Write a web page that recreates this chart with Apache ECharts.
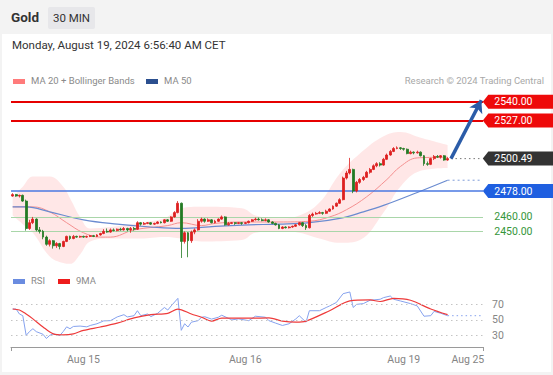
<!DOCTYPE html>
<html><head><meta charset="utf-8">
<script src="https://cdn.jsdelivr.net/npm/echarts/dist/echarts.min.js"></script>
<style>
html,body{margin:0;padding:0;}
body{width:553px;height:375px;overflow:hidden;background:#f3f3f3;font-family:Roboto,"Liberation Sans",Arial,sans-serif;}
#panel{position:absolute;left:2px;top:34px;width:549px;height:338px;background:#fff;}
#chart{position:absolute;left:0;top:0;width:553px;height:375px;}
.t{position:absolute;white-space:nowrap;}
.sw{position:absolute;width:12px;height:5px;}
</style>
</head><body>
<div id="panel"></div>
<div class="t" style="left:11px;top:9px;line-height:17px;font-size:13.5px;font-weight:bold;color:#333;">Gold</div>
<div class="t" style="left:48px;top:7px;width:47px;height:22px;line-height:22px;text-align:center;background:#e7e7ea;border-radius:2px;font-size:11.5px;color:#333;">30 MIN</div>
<div class="t" style="left:12px;top:38px;line-height:14px;font-size:11.5px;color:#333;">Monday, August 19, 2024 6:56:40 AM CET</div>
<div class="sw" style="left:13px;top:79px;background:#ff7b7b;"></div>
<div class="t" style="left:31px;top:74px;line-height:14px;font-size:9.5px;color:#8a8a8a;">MA 20 + Bollinger Bands</div>
<div class="sw" style="left:146px;top:79px;background:#2b4f8f;"></div>
<div class="t" style="left:164px;top:74px;line-height:14px;font-size:9.5px;color:#8a8a8a;">MA 50</div>
<div class="t" style="right:9px;top:74px;line-height:14px;font-size:9.5px;color:#a8a8a8;">Research © 2024 Trading Central</div>
<div class="sw" style="left:13px;top:279px;background:#6a8ce0;"></div>
<div class="t" style="left:31px;top:274px;line-height:14px;font-size:9.5px;color:#8a8a8a;">RSI</div>
<div class="sw" style="left:58px;top:279px;background:#ee1c1c;"></div>
<div class="t" style="left:76px;top:274px;line-height:14px;font-size:9.5px;color:#8a8a8a;">9MA</div>
<div id="chart"></div>
<script>
// ---- data ----
const slotCount = 140;               // 130 half-hour candles + projection space
const tickIndex  = [21, 69, 116, 135];
const tickLabels = ['Aug 15', 'Aug 16', 'Aug 19', 'Aug 25'];

const opens = [2474.5,2475.5,2474.5,2475,2471,2452,2456,2458.5,2451,2450,
2446,2441,2443.5,2440,2441.5,2439.5,2443,2446.5,2445,2446.5,
2446,2446.5,2446,2446.5,2447,2446.5,2447.5,2448.5,2450,2449.5,
2451,2450.5,2451.5,2451,2452,2451,2452,2451.5,2456,2455,
2455.5,2456,2455,2455.5,2456.5,2456,2458,2457,2460,2463,
2469.5,2443,2449,2443.5,2449.5,2451,2457,2458.5,2457,2458,
2456,2457,2458.5,2460,2454.5,2455.5,2456,2455.5,2456,2455.5,
2456,2457,2458,2458.5,2458,2457.5,2458,2456.5,2455.5,2454.5,
2452,2453,2452.5,2453,2453.5,2454.5,2456,2454,2452.5,2461,
2462,2462.5,2463,2462.5,2464,2465.5,2467.5,2469.5,2472,2487,
2490.5,2493,2478,2484,2486,2487.5,2491,2493,2495.5,2497,
2496,2500,2503,2505.5,2507.5,2508,2507.5,2507,2504,2505,
2504.5,2505,2502.5,2497,2496.5,2500.5,2502,2501.5,2502.5,2499.5];
const closes = [2475.5,2474.5,2475,2471,2452,2456,2458.5,2451,2450,2446,
2441,2443.5,2440,2441.5,2439.5,2443,2446.5,2445,2446.5,2446,
2446.5,2446,2446.5,2447,2446.5,2447.5,2448.5,2450,2449.5,2451,
2450.5,2451.5,2451,2452,2451,2452,2451.5,2456,2455,2455.5,
2456,2455,2455.5,2456.5,2456,2458,2457,2460,2463,2469.5,
2443,2449,2443.5,2449.5,2451,2457,2458.5,2457,2458,2456,
2457,2458.5,2460,2454.5,2455.5,2456,2455.5,2456,2455.5,2456,
2457,2458,2458.5,2458,2457.5,2458,2456.5,2455.5,2454.5,2452,
2453,2452.5,2453,2453.5,2454.5,2456,2454,2452.5,2461,2462,
2462.5,2463,2462.5,2464,2465.5,2467.5,2469.5,2472,2487,2490.5,
2493,2478,2484,2486,2487.5,2491,2493,2495.5,2497,2496,
2500,2503,2505.5,2507.5,2508,2507.5,2507,2504,2505,2504.5,
2505,2502.5,2497,2496.5,2500.5,2502,2501.5,2502.5,2499.5,2500.49];
const highs = [2476.5,2476,2475.5,2475.5,2472,2458,2460,2459,2453,2451,
2447,2444.5,2444,2442.5,2442,2443.5,2447,2447,2447.5,2447,
2447,2447,2447,2447.5,2447.5,2448,2449,2451.5,2452,2452,
2452,2452,2452.5,2453,2452.5,2453,2453,2457,2456.5,2456.5,
2456.5,2456.5,2456,2457,2457,2458.5,2458.5,2460.5,2464,2471,
2470,2450,2449.5,2450.5,2452,2458.5,2459.5,2459,2459,2458.5,
2458,2459,2461,2460.5,2456.5,2456.5,2456.5,2456.5,2456.5,2456.5,
2457.5,2458.5,2459.5,2459.5,2459,2459,2458.5,2457,2456,2455,
2453.5,2453.5,2453.5,2454,2455,2456.5,2456.5,2455,2462,2463,
2463.5,2464,2463.5,2465,2466,2468,2470,2473,2488,2492,
2501,2493.5,2485,2487,2488.5,2492,2494,2496.5,2498,2498,
2501,2504,2506.5,2508.5,2509,2508.5,2508,2507.5,2506,2505.5,
2506,2505.5,2503,2498.5,2501,2503,2503,2503,2503,2501.5];
const lows = [2474,2474,2473.5,2470.5,2450.5,2451,2455,2450,2448.5,2444.5,
2440,2439.5,2438,2438.5,2437.5,2439,2442.5,2444,2444.5,2445.5,
2445.5,2445.5,2445.5,2446,2446,2446,2447,2448,2449,2449,
2450,2450,2450.5,2450.5,2450,2449,2450.5,2451,2454,2454.5,
2455,2454.5,2454.5,2455,2455.5,2455.5,2456.5,2456.5,2459.5,2462.5,
2431.5,2441.5,2432,2442,2448,2450.5,2456,2456,2456.5,2455.5,
2455.5,2456.5,2458,2454,2454,2455,2454.5,2455,2454.5,2455,
2455.5,2456.5,2457.5,2457.5,2457,2457,2456,2455,2454,2451.5,
2451.5,2452,2452,2452.5,2453,2454,2453,2451,2452,2460,
2461.5,2462,2461.5,2462,2463.5,2465,2467,2469,2471.5,2486,
2489.5,2476.5,2477,2483,2485,2487,2490,2492.5,2494.5,2495,
2495.5,2499.5,2502.5,2505,2507,2506.5,2506,2503.5,2503.5,2503.5,
2504,2502,2495.5,2495.5,2496,2499.5,2501,2500.5,2499,2499];

// Bollinger band (read at these candle indexes)
const bandIdx   = [0,3,6,11,15,17,20,23,29,38,45,50,56,68,72,79,85,91,97,103,110,115,121,129];
const bandUpper = [2474,2481,2488,2488,2481,2473,2460,2452,2453,2456,2459,2466,2467,2466,2461,2459,2461,2470,2490,2504,2516,2519,2515,2510];
const bandLower = [2461,2455,2449,2432.5,2428,2427.5,2434,2443,2445,2445,2446,2445,2443,2444,2449,2450,2449,2445,2442,2444,2463,2481,2492,2494];
// MA 20
const ma20Idx = [0,6,11,16,21,26,29,36,46,50,56,60,68,79,88,94,99,105,111,115,120,129];
const ma20Val = [2467,2467,2463.5,2456,2449,2446,2446,2451,2454,2456,2454,2455.5,2456.5,2456.5,2457,2460,2465,2474,2486,2495,2501,2501.5];
// MA 50
const ma50Idx = [0,4,11,21,31,41,50,60,70,79,88,97,104,110,120,129];
const ma50Val = [2467,2467,2463.5,2458,2455,2453,2452,2453.5,2454.5,2455,2456,2459,2463.5,2468,2477,2485.5];

// Levels
const resistLevels = [2540, 2527];
const supportMain = 2478;
const supportMinor = [2460, 2450];
const lastPrice = 2500.49;
const targetPrice = 2541;

// RSI (read at these candle indexes)
const rsiIdx = [0,1,2,3,4,5,6,7,9,10,11,12,14,15,16,17,18,20,22,23,25,27,29,31,33,34,36,37,38,40,41,43,45,46,47,49,50,51,52,53,55,56,57,59,61,62,65,67,70,72,75,76,78,80,82,84,85,87,88,91,93,94,96,98,100,101,102,104,106,109,110,112,113,115,118,120,122,124,125,127,129];
const rsiVal = [64,64,57.6,55.4,30,35,38.6,34.8,31.4,26,30,32,30,35,41,38.6,41.5,42,41,42.8,45,48.7,49,53.8,56.7,53.8,55.4,61.8,55.4,57.6,54.2,58.5,66,62.7,68,77.8,36.5,45,40.8,47,49,53.4,54,51,53.4,56,50,51.3,49,54.7,53.4,49,45.8,42.8,45,51.3,55.4,47,61.8,61.8,66,68,72.4,83.8,86,66,70,71,75.3,76.6,78.7,80.8,76.6,74.4,71,68,54.7,55.4,61,58.5,55.4];
const maRsiIdx = [0,2,4,6,9,12,15,18,21,26,31,36,41,46,49,53,56,59,62,65,71,76,80,84,87,94,100,106,109,113,118,124,129];
const maRsiVal = [64,62.7,57.6,51.3,40.8,32,30.6,32,36.5,40.8,45.8,52.5,56.7,58.5,63.9,57.6,53.4,48.4,52.2,52.2,52.2,52.5,48.4,47,48.4,61.8,74.4,75.7,73.7,77.8,75.3,64,56.7];
const rsiLevels = [30, 50, 70];

// ---- build chart ----
const categories = [];
for (let i = 0; i < slotCount; i++) categories.push('s' + i);
const lastIdx = closes.length - 1;
const endIdx = slotCount - 1;
const pairs = (ix, v) => ix.map((x, k) => [x, v[k]]);

const chart = echarts.init(document.getElementById('chart'), null, {renderer: 'svg', width: 553, height: 375});
const FONT = 'Roboto, "Liberation Sans", Arial, sans-serif';

const option = {
  animation: false,
  backgroundColor: 'transparent',
  textStyle: {fontFamily: FONT},
  grid: [
    {left: 11, right: 70, top: 90.2, height: 175.7},
    {left: 11, right: 70, top: 285, height: 62}
  ],
  xAxis: [
    {type: 'category', gridIndex: 0, data: categories, boundaryGap: true, show: false},
    {type: 'category', gridIndex: 1, data: categories, boundaryGap: true,
     axisLine: {lineStyle: {color: '#9a9a9a'}},
     axisTick: {show: true, length: 4, lineStyle: {color: '#9a9a9a'}, interval: (i) => i === 0},
     axisLabel: {color: '#858585', fontSize: 10.5, margin: 7, fontFamily: FONT,
       interval: (i) => tickIndex.indexOf(i) >= 0,
       formatter: (v, i) => { const k = tickIndex.indexOf(i); return k >= 0 ? tickLabels[k] : ''; }},
     splitLine: {show: false}}
  ],
  yAxis: [
    {type: 'value', gridIndex: 0, min: 2426, max: 2548, show: false, splitLine: {show: false}},
    {type: 'value', gridIndex: 1, min: 15, max: 95, interval: 5, position: 'right',
     axisLine: {show: false}, axisTick: {show: false}, splitLine: {show: false},
     axisLabel: {color: '#858585', fontSize: 10.5, margin: 9, fontFamily: FONT,
       formatter: (v) => rsiLevels.indexOf(v) >= 0 ? String(v) : ''}}
  ],
  series: [
    {type: 'line', name: 'bbLow', xAxisIndex: 0, yAxisIndex: 0, stack: 'bb', smooth: 0.4, symbol: 'none',
     lineStyle: {opacity: 0}, data: pairs(bandIdx, bandLower), z: 1},
    {type: 'line', name: 'bbRange', xAxisIndex: 0, yAxisIndex: 0, stack: 'bb', smooth: 0.4, symbol: 'none',
     lineStyle: {opacity: 0}, areaStyle: {color: 'rgba(255,170,170,0.4)'},
     data: bandIdx.map((x, k) => [x, bandUpper[k] - bandLower[k]]), z: 1},
    {type: 'line', name: 'MA20', xAxisIndex: 0, yAxisIndex: 0, smooth: 0.4, symbol: 'none',
     lineStyle: {color: '#f49090', width: 1}, data: pairs(ma20Idx, ma20Val), z: 2},
    {type: 'line', name: 'MA50', xAxisIndex: 0, yAxisIndex: 0, smooth: 0.4, symbol: 'none',
     lineStyle: {color: '#6a8bd0', width: 1.2}, data: pairs(ma50Idx, ma50Val), z: 2},
    {type: 'line', name: 'MA50ext', xAxisIndex: 0, yAxisIndex: 0, symbol: 'none',
     lineStyle: {color: '#7d9bd8', width: 1, type: [2, 3]},
     data: [[lastIdx, ma50Val[ma50Val.length - 1]], [endIdx, ma50Val[ma50Val.length - 1]]], z: 2},
    {type: 'candlestick', name: 'Gold', xAxisIndex: 0, yAxisIndex: 0, barWidth: 2.4,
     itemStyle: {color: '#dd1f1f', color0: '#237a23', borderColor: '#dd1f1f', borderColor0: '#237a23', borderWidth: 0.8},
     data: closes.map((c, i) => [opens[i], c, lows[i], highs[i]]), z: 4,
     markLine: {silent: true, symbol: 'none', label: {show: false}, z: 3,
       data: [
         {yAxis: resistLevels[0], lineStyle: {color: '#e60000', width: 2, type: 'solid'}},
         {yAxis: resistLevels[1], lineStyle: {color: '#e60000', width: 2, type: 'solid'}},
         {yAxis: supportMain, lineStyle: {color: '#4a78e2', width: 1.6, type: 'solid'}},
         {yAxis: supportMinor[0], lineStyle: {color: '#a9d6a9', width: 1, type: 'solid'}},
         {yAxis: supportMinor[1], lineStyle: {color: '#a9d6a9', width: 1, type: 'solid'}}
       ]}},
    {type: 'line', name: 'priceExt', xAxisIndex: 0, yAxisIndex: 0, symbol: 'none',
     lineStyle: {color: '#777', width: 1, type: [1.5, 3]},
     data: [[lastIdx + 1, lastPrice], [endIdx, lastPrice]], z: 3,
     markLine: {silent: true, symbol: ['none', 'arrow'], symbolSize: [11, 12], label: {show: false},
       lineStyle: {color: '#2b5ca8', width: 3.5, type: 'solid'},
       data: [[{coord: [lastIdx + 1, lastPrice]}, {coord: [endIdx, targetPrice]}]]}},
    {type: 'line', name: 'RSI', xAxisIndex: 1, yAxisIndex: 1, symbol: 'none',
     lineStyle: {color: '#86a2ee', width: 1}, data: pairs(rsiIdx, rsiVal), z: 3,
     markLine: {silent: true, symbol: 'none', label: {show: false},
       lineStyle: {color: '#c4c4c4', width: 1, type: [1.5, 3.5]},
       data: rsiLevels.map(v => ({yAxis: v}))}},
    {type: 'line', name: '9MA', xAxisIndex: 1, yAxisIndex: 1, symbol: 'none', smooth: 0.3,
     lineStyle: {color: '#ee3a3a', width: 1.2}, data: pairs(maRsiIdx, maRsiVal), z: 4},
    {type: 'line', name: 'RSIext', xAxisIndex: 1, yAxisIndex: 1, symbol: 'none',
     lineStyle: {color: '#86a2ee', width: 1, type: [1.5, 3]},
     data: [[lastIdx, rsiVal[rsiVal.length - 1]], [endIdx, rsiVal[rsiVal.length - 1]]], z: 3}
  ]
};
chart.setOption(option);

// price tags on the right, placed through the price scale
const tags = [
  {v: resistLevels[0], c: '#ee0a0a'},
  {v: resistLevels[1], c: '#ee0a0a'},
  {v: lastPrice, c: '#333333'},
  {v: supportMain, c: '#1f5fe0'}
];
const graphics = [];
const xTip = chart.convertToPixel({xAxisIndex: 0}, endIdx) + 1.5;
tags.forEach(t => {
  const y = chart.convertToPixel({yAxisIndex: 0}, t.v);
  graphics.push({type: 'polygon', silent: true, z: 10,
    shape: {points: [[xTip, y], [xTip + 5.5, y - 7], [553, y - 7], [553, y + 7], [xTip + 5.5, y + 7]]},
    style: {fill: t.c}});
  graphics.push({type: 'text', silent: true, z: 11, x: xTip + 11.5, y: y,
    style: {text: t.v.toFixed(2), fill: '#fff', font: '10.5px ' + FONT, verticalAlign: 'middle'}});
});
supportMinor.forEach(v => {
  const y = chart.convertToPixel({yAxisIndex: 0}, v);
  graphics.push({type: 'text', silent: true, z: 11, x: xTip + 11.5, y: y,
    style: {text: v.toFixed(2), fill: '#35963a', font: '10.5px ' + FONT, verticalAlign: 'middle'}});
});
chart.setOption({graphic: graphics});
</script>
</body></html>
